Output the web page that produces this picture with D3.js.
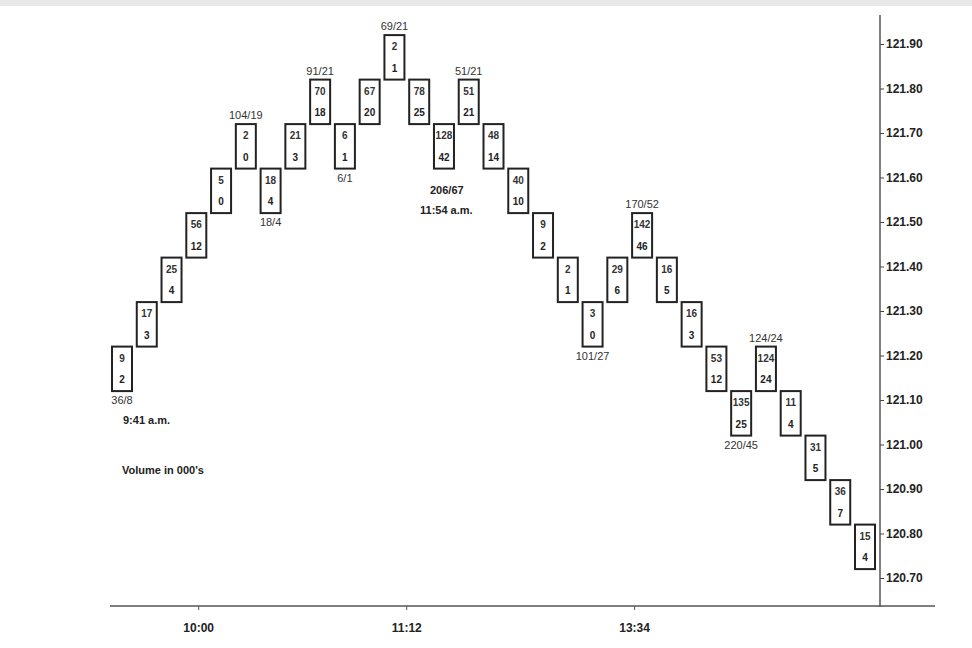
<!DOCTYPE html>
<html><head><meta charset="utf-8">
<script src="https://cdn.jsdelivr.net/npm/d3@7"></script>
<style>body{margin:0;background:#fff}svg{font-family:Arial,"Liberation Sans",sans-serif}</style>
</head><body><svg id="c" width="972" height="648"></svg>
<script>
// box lower edges, volume (000's) and second figure
const lows = [121.12,121.22,121.32,121.42,121.52,121.62,121.52,121.62,121.72,121.62,121.72,121.82,121.72,121.62,121.72,121.62,121.52,121.42,121.32,121.22,121.32,121.42,121.32,121.22,121.12,121.02,121.12,121.02,120.92,120.82,120.72];
const topNums = [9,17,25,56,5,2,18,21,70,6,67,2,78,128,51,48,40,9,2,3,29,142,16,16,53,135,124,11,31,36,15];
const botNums = [2,3,4,12,0,0,4,3,18,1,20,1,25,42,21,14,10,2,1,0,6,46,5,3,12,25,24,4,5,7,4];
const priceTicks = [121.90,121.80,121.70,121.60,121.50,121.40,121.30,121.20,121.10,121.00,120.90,120.80,120.70];
const timeLabels = [{i:3.5,t:"10:00"},{i:11.9,t:"11:12"},{i:21.1,t:"13:34"}];
// annotations: box index, above/below, text
const notes = [
  {i:0,pos:"below",t:"36/8"},{i:5,pos:"above",t:"104/19"},{i:6,pos:"below",t:"18/4"},
  {i:8,pos:"above",t:"91/21"},{i:9,pos:"below",t:"6/1"},{i:11,pos:"above",t:"69/21"},
  {i:14,pos:"above",t:"51/21"},{i:19,pos:"below",t:"101/27"},{i:21,pos:"above",t:"170/52"},
  {i:26,pos:"above",t:"124/24"},{i:25,pos:"below",t:"220/45"}
];

const svg = d3.select("#c");
svg.append("rect").attr("width",972).attr("height",6).attr("fill","#e8e8e8");

const y = d3.scaleLinear().domain([120.70,121.90]).range([578,44]);
const x = d3.scaleLinear().domain([0,30]).range([112,855]);
const bw = 20;

// right price axis
svg.append("g").attr("transform","translate(880,0)")
  .call(d3.axisRight(y).tickValues(priceTicks).tickFormat(d3.format(".2f")).tickSize(4).tickPadding(2))
  .call(g=>g.select(".domain").remove())
  .call(g=>g.selectAll("text").attr("font-size",12).attr("font-weight","bold").attr("fill","#222"))
  .call(g=>g.selectAll("line").attr("stroke","#444"));
svg.append("line").attr("x1",880).attr("x2",880).attr("y1",15).attr("y2",607).attr("stroke","#555").attr("stroke-width",1.5);
svg.append("line").attr("x1",110).attr("x2",935).attr("y1",606).attr("y2",606).attr("stroke","#555").attr("stroke-width",1.5);

svg.selectAll(".tl").data(timeLabels).enter().append("text")
  .attr("x",d=>x(d.i)).attr("y",632).attr("text-anchor","middle")
  .attr("font-size",12).attr("font-weight","bold").attr("fill","#222").text(d=>d.t);
svg.selectAll(".tk").data(timeLabels).enter().append("line")
  .attr("x1",d=>x(d.i)).attr("x2",d=>x(d.i)).attr("y1",606).attr("y2",610).attr("stroke","#555");

const boxes = svg.selectAll(".box").data(lows).enter().append("g");
boxes.append("rect").attr("x",(d,i)=>x(i)).attr("y",d=>y(d+0.1))
  .attr("width",bw).attr("height",d=>y(d)-y(d+0.1))
  .attr("fill","#fff").attr("stroke","#222").attr("stroke-width",2);
boxes.append("text").attr("x",(d,i)=>x(i)+bw/2).attr("y",d=>y(d+0.1)+15)
  .attr("text-anchor","middle").attr("font-size",10).attr("font-weight","bold").attr("fill","#333")
  .text((d,i)=>topNums[i]);
boxes.append("text").attr("x",(d,i)=>x(i)+bw/2).attr("y",d=>y(d)-8)
  .attr("text-anchor","middle").attr("font-size",10).attr("font-weight","bold").attr("fill","#222")
  .text((d,i)=>botNums[i]);

svg.selectAll(".note").data(notes).enter().append("text")
  .attr("x",d=>x(d.i)+bw/2).attr("y",d=>d.pos==="above"?y(lows[d.i]+0.1)-5:y(lows[d.i])+13)
  .attr("text-anchor","middle").attr("font-size",11).attr("fill","#333").text(d=>d.t);

const free = [
  {x:123,y:424,t:"9:41 a.m."},{x:122,y:474,t:"Volume in 000's"},
  {x:430,y:194,t:"206/67"},{x:420,y:214,t:"11:54 a.m."}
];
svg.selectAll(".free").data(free).enter().append("text")
  .attr("x",d=>d.x).attr("y",d=>d.y).attr("font-size",11).attr("font-weight","bold").attr("fill","#222").text(d=>d.t);
</script></body></html>
